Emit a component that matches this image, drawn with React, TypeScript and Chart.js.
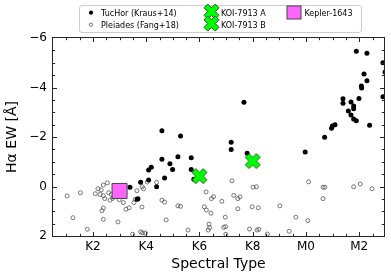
import React, { useEffect, useRef } from 'react';
import { Chart, registerables } from 'chart.js';

Chart.register(...registerables);

// ---- axis ticks ----
const xTickValues = [2, 4, 6, 8, 10, 12];
const xTickLabels = ['K2', 'K4', 'K6', 'K8', 'M0', 'M2'];
const yTickValues = [-6, -4, -2, 0, 2];
const yTickLabels = ['\u22126', '\u22124', '\u22122', '0', '2'];

// ---- series ----
const tucHorSpT = [4.59, 5.29, 5.19, 5.69, 4.59, 4.89, 4.99, 4.19, 4.09, 5.69, 4.09, 4.69, 3.79, 4.39, 3.39, 3.69, 3.66, 5.79,
  7.19, 7.19, 7.79, 9.97, 10.70, 7.67, 11.89, 12.29, 12.89, 12.97, 12.18, 12.29, 12.08, 12.09, 12.89, 11.99, 11.39, 11.39,
  11.69, 11.79, 11.79, 11.59, 11.69, 11.79, 11.89, 12.39, 10.99, 11.09, 10.96];
const tucHorEW = [-2.25, -2.04, -1.20, -1.16, -1.10, -0.92, -0.69, -0.78, -0.67, -0.69, -0.26, -0.34, -0.17, 0.01, 0.03, 0.49, 0.52, -0.29,
  -1.79, -1.50, -1.34, -1.39, -1.99, -3.40, -5.46, -5.38, -5.00, -4.62, -4.55, -4.27, -4.06, -3.98, -3.63, -3.56, -3.55, -3.36,
  -3.41, -3.25, -3.14, -3.05, -2.89, -2.73, -2.66, -2.47, -2.44, -2.50, -2.35];

const pleiadesSpT = [1.03, 1.53, 1.25, 1.79, 2.54, 2.39, 2.19, 2.31, 2.09, 2.27, 2.39, 2.44, 2.59, 2.69, 2.64, 2.79, 2.74,
  2.34, 2.39, 2.39, 2.94, 2.99, 3.14, 3.24, 3.36, 3.54, 3.59, 3.65, 3.85, 3.90, 4.04, 4.39, 3.84, 4.59, 4.69, 4.75,
  3.79, 3.86, 3.97, 3.49, 5.19, 5.29, 5.57, 6.25, 6.45, 6.53, 6.84, 7.22, 7.29, 7.44, 7.52, 8.01, 8.14, 6.18, 6.26,
  6.43, 7.44, 7.98, 8.21, 9.02, 6.97, 6.36, 6.38, 6.33, 6.91, 6.98, 6.99, 7.88, 8.16, 8.23, 8.55, 9.37, 9.62, 10.07,
  10.10, 10.64, 10.71, 10.64, 11.79, 12.04, 12.48];
const pleiadesEW = [0.38, 0.25, 1.26, 1.73, -0.15, -0.06, 0.09, 0.14, 0.29, 0.32, 0.37, 0.49, 0.25, 0.32, 0.55, 0.40, 0.48,
  0.98, 0.87, 1.33, 1.43, 0.53, 0.65, 0.92, 0.86, 0.65, 0.52, 0.17, 0.01, 0.09, -0.18, -0.17, 0.83, 0.55, 0.63, 1.35,
  1.83, 1.87, 1.88, 1.93, 0.78, 0.80, 1.76, 0.22, 0.49, 0.41, 0.60, -0.23, 0.36, 0.49, 0.42, 0.03, 0.01, 0.82, 0.95,
  1.08, 0.90, 0.82, 0.86, 0.78, 1.24, 1.52, 1.66, 1.76, 1.65, 1.62, 1.93, 1.72, 1.76, 1.73, 1.92, 1.81, 1.24, 1.38,
  -0.19, 0.03, 0.03, 0.49, 0.01, -0.10, 0.09];

const koiSpT = [6.0, 8.0];
const koiEW = [-0.42, -1.03];
const keplerSpT = [3.0];
const keplerEW = [0.18];

const legendLabels = ['TucHor (Kraus+14)', 'Pleiades (Fang+18)', 'KOI-7913 A', 'KOI-7913 B', 'Kepler-1643'];

const FONT = '"DejaVu Sans", "Liberation Sans", sans-serif';
const GREEN = '#00ff00';
const GREEN_EDGE = '#1d5c1d';
const PINK = '#ff66ff';
const PINK_EDGE = '#444444';

function drawX(ctx: CanvasRenderingContext2D, cx: number, cy: number, size: number) {
  const v = [[-1, -2], [0, -1], [1, -2], [2, -1], [1, 0], [2, 1], [1, 2], [0, 1], [-1, 2], [-2, 1], [-1, 0], [-2, -1]];
  const s = size / 4;
  ctx.beginPath();
  v.forEach(([x, y], i) => {
    const px = cx + x * s;
    const py = cy + y * s;
    if (i === 0) ctx.moveTo(px, py); else ctx.lineTo(px, py);
  });
  ctx.closePath();
  ctx.fillStyle = GREEN;
  ctx.fill();
  ctx.lineWidth = 1;
  ctx.strokeStyle = GREEN_EDGE;
  ctx.stroke();
}

function makeXMarker(size: number): HTMLCanvasElement {
  const c = document.createElement('canvas');
  c.width = size + 2;
  c.height = size + 2;
  const ctx = c.getContext('2d')!;
  drawX(ctx, c.width / 2, c.height / 2, size);
  return c;
}

const frameTicks = {
  id: 'frameTicks',
  afterDatasetsDraw(chart: any) {
    const { ctx, chartArea } = chart;
    const { left, right, top, bottom } = chartArea;
    const x = chart.scales.x;
    const y = chart.scales.y;
    ctx.save();
    ctx.strokeStyle = '#262626';
    ctx.lineWidth = 1;
    const line = (x1: number, y1: number, x2: number, y2: number) => {
      ctx.beginPath();
      ctx.moveTo(x1, y1);
      ctx.lineTo(x2, y2);
      ctx.stroke();
    };
    for (let v = 0.5; v <= 13; v += 0.5) {
      const px = Math.round(x.getPixelForValue(v)) + 0.5;
      if (px <= left + 1 || px >= right - 1) continue;
      const len = v % 2 === 0 ? 4 : 2.2;
      line(px, bottom, px, bottom - len);
      line(px, top, px, top + len);
    }
    for (let v = -6; v <= 2; v += 0.5) {
      const py = Math.round(y.getPixelForValue(v)) + 0.5;
      if (py <= top + 1 || py >= bottom - 1) continue;
      const len = v % 2 === 0 ? 4 : 2.2;
      line(left, py, left + len, py);
      line(right, py, right - len, py);
    }
    ctx.strokeRect(Math.round(left) - 0.5, Math.round(top) - 0.5, Math.round(right) - Math.round(left) + 1, Math.round(bottom) - Math.round(top) + 1);
    ctx.restore();
  },
};

const customLegend = {
  id: 'customLegend',
  afterDraw(chart: any) {
    const ctx: CanvasRenderingContext2D = chart.ctx;
    ctx.save();
    // frame
    const bx = 79.5, by = 5.5, bw = 282, bh = 27;
    ctx.beginPath();
    (ctx as any).roundRect(bx, by, bw, bh, 2.5);
    ctx.fillStyle = 'rgba(255,255,255,0.85)';
    ctx.fill();
    ctx.strokeStyle = '#cccccc';
    ctx.lineWidth = 1;
    ctx.stroke();

    ctx.font = `8px ${FONT}`;
    ctx.fillStyle = '#000';
    ctx.textBaseline = 'alphabetic';
    ctx.textAlign = 'left';

    // TucHor
    ctx.beginPath();
    ctx.arc(91, 12.7, 2.1, 0, Math.PI * 2);
    ctx.fillStyle = '#000';
    ctx.fill();
    ctx.fillText(legendLabels[0], 101, 15.6);
    // Pleiades
    ctx.beginPath();
    ctx.arc(91, 24.7, 1.7, 0, Math.PI * 2);
    ctx.strokeStyle = '#555';
    ctx.lineWidth = 0.8;
    ctx.stroke();
    ctx.fillText(legendLabels[1], 101, 27.6);
    // KOI A, B
    drawX(ctx, 211.5, 11.6, 15);
    drawX(ctx, 211.5, 23.6, 15);
    ctx.fillStyle = '#000';
    ctx.fillText(legendLabels[2], 221, 15.6);
    ctx.fillText(legendLabels[3], 221, 27.6);
    // Kepler-1643
    ctx.fillStyle = PINK;
    ctx.fillRect(287, 6, 14, 13);
    ctx.strokeStyle = PINK_EDGE;
    ctx.lineWidth = 1;
    ctx.strokeRect(287, 6, 14, 13);
    ctx.fillStyle = '#000';
    ctx.fillText(legendLabels[4], 304.5, 15.6);
    ctx.restore();
  },
};

export default function App() {
  const ref = useRef<HTMLCanvasElement | null>(null);

  useEffect(() => {
    if (!ref.current) return;
    const xMarker = makeXMarker(15);
    const tucHor = tucHorSpT.map((v, i) => ({ x: v, y: tucHorEW[i] }));
    const pleiades = pleiadesSpT.map((v, i) => ({ x: v, y: pleiadesEW[i] }));
    const koi = koiSpT.map((v, i) => ({ x: v, y: koiEW[i] }));
    const kepler = keplerSpT.map((v, i) => ({ x: v, y: keplerEW[i] }));

    const chart = new Chart(ref.current, {
      type: 'scatter',
      data: {
        datasets: [
          {
            label: legendLabels[4],
            data: kepler,
            pointStyle: 'rect',
            pointRadius: 10.6,
            backgroundColor: PINK,
            borderColor: PINK_EDGE,
            borderWidth: 1,
            clip: 0,
          } as any,
          {
            label: 'KOI-7913',
            data: koi,
            pointStyle: xMarker,
            pointRadius: 8,
            clip: 0,
          } as any,
          {
            label: legendLabels[0],
            data: tucHor,
            pointRadius: 2.5,
            backgroundColor: '#000',
            borderColor: '#000',
            borderWidth: 0,
            clip: 0,
          } as any,
          {
            label: legendLabels[1],
            data: pleiades,
            pointRadius: 2,
            backgroundColor: 'rgba(0,0,0,0)',
            borderColor: '#555',
            borderWidth: 0.8,
            clip: 0,
          } as any,
        ],
      },
      options: {
        animation: false,
        responsive: false,
        devicePixelRatio: 1,
        events: [],
        layout: { autoPadding: false, padding: { left: 0, right: 7, top: 38, bottom: 0 } },
        plugins: {
          legend: { display: false },
          tooltip: { enabled: false },
        },
        scales: {
          x: {
            type: 'linear',
            min: 0.5,
            max: 12.93,
            grid: { display: false, drawTicks: false },
            border: { display: false },
            afterBuildTicks: (scale: any) => {
              scale.ticks = xTickValues.map((v) => ({ value: v }));
            },
            afterFit: (scale: any) => {
              scale.height = 43;
              scale.paddingLeft = 0;
              scale.paddingRight = 0;
            },
            ticks: {
              autoSkip: false,
              maxRotation: 0,
              padding: 4,
              color: '#000',
              font: { family: FONT, size: 12 },
              callback: (value: any) => {
                const i = xTickValues.indexOf(Number(value));
                return i >= 0 ? xTickLabels[i] : '';
              },
            },
            title: {
              display: true,
              text: 'Spectral Type',
              color: '#000',
              font: { family: FONT, size: 14 },
              padding: { top: 0, bottom: 6 },
            },
          },
          y: {
            type: 'linear',
            reverse: true,
            min: -6,
            max: 2,
            grid: { display: false, drawTicks: false },
            border: { display: false },
            afterBuildTicks: (scale: any) => {
              scale.ticks = yTickValues.map((v) => ({ value: v }));
            },
            afterFit: (scale: any) => {
              scale.width = 53;
              scale.paddingTop = 0;
              scale.paddingBottom = 0;
            },
            ticks: {
              autoSkip: false,
              padding: 6,
              color: '#000',
              font: { family: FONT, size: 12 },
              callback: (value: any) => {
                const i = yTickValues.indexOf(Number(value));
                return i >= 0 ? yTickLabels[i] : '';
              },
            },
            title: {
              display: true,
              text: 'H\u03b1 EW [\u00c5]',
              color: '#000',
              font: { family: FONT, size: 14 },
              padding: { top: 4, bottom: 0 },
            },
          },
        },
      },
      plugins: [frameTicks, customLegend],
    } as any);

    return () => chart.destroy();
  }, []);

  return (
    <div style={{ position: 'absolute', left: 0, top: 0, width: 391, height: 279, background: '#fff' }}>
      <canvas ref={ref} width={391} height={279} style={{ width: 391, height: 279, display: 'block' }} />
    </div>
  );
}
